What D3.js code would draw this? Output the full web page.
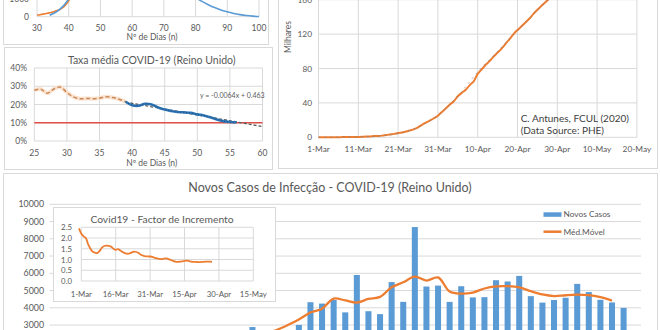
<!DOCTYPE html>
<html><head><meta charset="utf-8">
<script src="https://cdn.jsdelivr.net/npm/d3@7"></script>
<style>body{margin:0;background:#fff} svg{display:block;font-family:Lato,"Open Sans",sans-serif}</style>
</head><body><svg id="c" width="660" height="330"></svg>
<script>
// ---------- DATA ----------
// Panel A (top-left, partially visible): daily cases vs day number
const aTicksX = [30,40,50,60,70,80,90,100];
const aTicksY = [0,1000];
const aObsN = [30,31,32,33,34,35,36,37,38,39,40,41];
const aObsV = [90,110,140,175,215,260,320,380,480,640,880,1150];
const aFitUpN = [34,35,36,37,38,39,40,41];
const aFitUpV = [80,160,260,380,540,740,980,1250];
const aFitDownN = [78,80,82,84,86,88,90,92,94,96,98,100];
const aFitDownV = [1300,1050,840,660,500,370,270,180,115,65,30,10];

// Panel B (middle-left): Taxa média
const bTicksX = [25,30,35,40,45,50,55,60];
const bTicksY = [0,0.1,0.2,0.3,0.4];
const bEarlyN = [25,26,27,28,29,30,31,32,33,34,35,36,37,38,39];
const bEarlyV = [0.278,0.284,0.262,0.285,0.296,0.266,0.242,0.232,0.233,0.232,0.235,0.242,0.238,0.229,0.215];
const bLateN = [39,40,41,42,43,44,45,46,47,48,49,50,51,52,53,54,55,56];
const bLateV = [0.215,0.196,0.193,0.204,0.200,0.184,0.172,0.165,0.159,0.157,0.154,0.146,0.140,0.130,0.118,0.109,0.104,0.102];
const bTrendN = [39,60];
const bTrendV = [0.213,0.079];
const bThreshold = 0.10;
const bEquation = "y = -0.0064x + 0.463";

// Panel C (top-right): cumulative cases (thousands), from 1-Mar
const cStart = "2020-03-01";
const cCum = [0.036,0.04,0.051,0.087,0.116,0.164,0.209,0.278,0.321,0.383,
  0.46,0.594,0.797,1.061,1.391,1.543,1.95,2.626,3.269,3.983,
  5.018,5.683,6.65,8.077,9.529,11.658,14.543,17.089,19.522,22.141,25.15,
  29.474,33.718,38.168,41.903,47.806,51.608,55.242,60.733,65.077,73.758,
  78.991,84.279,88.621,93.873,98.476,103.093,108.692,114.217,120.067,124.743,
  129.044,133.495,138.078,143.464,148.377,152.84,157.149,161.145];
const cFitDay = [0,10,15,20,25,30,35,40,45,50,55,58];
const cFitV = [0,0.4,1.5,4.2,11.5,25.5,48,76,100,124,148,161];
const cTicksY = [0,40,80,120,160];
const cTickLabels = ["1-Mar","11-Mar","21-Mar","31-Mar","10-Apr","20-Apr","30-Apr","10-May","20-May"];

// Panel D (bottom): new daily cases from 10-Mar
const dStart = "2020-03-10";
const dDays = 51;
const dNew = [62,77,134,203,264,330,152,407,676,643,714,1035,665,967,1427,1452,2129,2885,2546,2433,2619,3009,
  4324,4244,4450,3735,5903,3802,3634,5491,4344,8681,5233,5288,4342,5252,4603,4617,5599,5525,5850,4676,
  4301,4451,4583,5386,4913,4463,4309,3996];
// moving average (5-day centred), from 12-Mar
const dMAStart = 2;
const dMA = [148,202,217,271,366,442,518,695,747,805,962,1109,1328,1772,2088,2289,2522,2698,2986,3326,3729,3952,
  4531,4427,4305,4513,4635,5190,5477,5807,5578,5759,4944,4820,4883,5119,5239,5253,5190,4961,4772,4679,4727,4759,4731,4613,4420];
const dTicksY = [3000,4000,5000,6000,7000,8000,9000,10000];

// Inset: Factor de Incremento, from 29-Feb
const iStart = "2020-02-29";
const iFactor = [2.45,2.2,2.08,2.0,1.7,1.5,1.36,1.32,1.3,1.4,1.55,1.63,1.65,1.64,1.6,1.5,1.45,1.48,1.42,1.35,
  1.3,1.27,1.28,1.33,1.37,1.35,1.3,1.22,1.18,1.15,1.15,1.14,1.12,1.08,1.05,1.03,1.02,1.04,1.05,1.02,
  0.98,0.94,0.9,0.89,0.9,0.91,0.94,0.95,0.93,0.9,0.89,0.89,0.88,0.88,0.89,0.9,0.9,0.9,0.89];
const iTicksY = [0,0.5,1.0,1.5,2.0,2.5];
const iTickLabels = ["1-Mar","16-Mar","31-Mar","15-Apr","30-Apr","15-May"];

// ---------- DRAW ----------
const svg = d3.select("#c");
const GRID = "#d9d9d9", TXT = "#595959", ORANGE = "#ed7d31", BLUE = "#5b9bd5";
const parse = d3.timeParse("%Y-%m-%d");
const fmt = d3.timeFormat("%-d-%b");

function panel(x, y, w, h) {
  svg.append("rect").attr("x", x + 0.5).attr("y", y + 0.5).attr("width", w).attr("height", h)
    .attr("fill", "#fff").attr("stroke", GRID);
}
function text(x, y, s, size, anchor, fill) {
  return svg.append("text").attr("x", x).attr("y", y).text(s).attr("font-size", size)
    .attr("text-anchor", anchor || "middle").attr("fill", fill || TXT);
}
function hgrid(g, ys, x0, x1) {
  g.selectAll(null).data(ys).join("line").attr("x1", x0).attr("x2", x1)
    .attr("y1", d => d).attr("y2", d => d).attr("stroke", GRID).attr("stroke-width", 1);
}
function vgrid(g, xs, y0, y1) {
  g.selectAll(null).data(xs).join("line").attr("y1", y0).attr("y2", y1)
    .attr("x1", d => d).attr("x2", d => d).attr("stroke", GRID).attr("stroke-width", 1);
}

// ===== Panel A =====
panel(3, -100, 265, 144);
{
  const x = d3.scaleLinear([30, 100], [37, 259]);
  const y = d3.scaleLinear([0, 1000], [16.7, -1.5]);
  const g = svg.append("g");
  vgrid(g, aTicksX.map(x), y(1000), y(0));
  hgrid(g, aTicksY.map(y), x(30), x(100));
  aTicksX.forEach(t => text(x(t), 31, t, 8.5));
  aTicksY.forEach(t => text(29, y(t) + 3, t, 8.5, "end"));
  text(152, 39.5, "Nº de Dias (n)", 8.5);
  const line = d3.line().curve(d3.curveCatmullRom);
  g.append("path").attr("d", line(aObsN.map((n, i) => [x(n), y(aObsV[i])]))).attr("fill", "none").attr("stroke", ORANGE).attr("stroke-width", 1.6);
  g.append("path").attr("d", line(aFitUpN.map((n, i) => [x(n), y(aFitUpV[i])]))).attr("fill", "none").attr("stroke", BLUE).attr("stroke-width", 1.6);
  g.append("path").attr("d", line(aFitDownN.map((n, i) => [x(n), y(aFitDownV[i])]))).attr("fill", "none").attr("stroke", BLUE).attr("stroke-width", 1.6);
}

// ===== Panel B =====
panel(4, 47, 268, 122);
{
  const x = d3.scaleLinear([25, 60], [34.3, 262.5]);
  const y = d3.scaleLinear([0, 0.4], [141, 68]);
  const g = svg.append("g");
  vgrid(g, bTicksX.map(x), y(0.4), y(0));
  hgrid(g, bTicksY.map(y), x(25), x(60));
  bTicksX.forEach(t => text(x(t), 156, t, 8.5));
  bTicksY.forEach(t => text(27, y(t) + 3, Math.round(t * 100) + "%", 8.5, "end"));
  text(151.7, 63.5, "Taxa média  COVID-19 (Reino Unido)", 10.5);
  text(151.7, 165.5, "Nº de Dias (n)", 8.5);
  const line = d3.line().curve(d3.curveCatmullRom);
  // threshold
  g.append("line").attr("x1", x(25)).attr("x2", x(60)).attr("y1", y(bThreshold)).attr("y2", y(bThreshold))
    .attr("stroke", "#e0504a").attr("stroke-width", 1.3);
  // early (orange)
  const early = bEarlyN.map((n, i) => [x(n), y(bEarlyV[i])]);
  g.append("path").attr("d", line(early)).attr("fill", "none").attr("stroke", "#fbe2cf").attr("stroke-width", 4);
  g.append("path").attr("d", line(early)).attr("fill", "none").attr("stroke", "#c98a5a").attr("stroke-width", 1.5).attr("stroke-dasharray", "4,2.5");
  // trend
  g.append("path").attr("d", d3.line()(bTrendN.map((n, i) => [x(n), y(bTrendV[i])]))).attr("fill", "none")
    .attr("stroke", "#595959").attr("stroke-width", 1.3).attr("stroke-dasharray", "3,2");
  // late (blue)
  const late = bLateN.map((n, i) => [x(n), y(bLateV[i])]);
  g.append("path").attr("d", line(late)).attr("fill", "none").attr("stroke", "#2e75b6").attr("stroke-width", 2.6);
  g.append("path").attr("d", line(late)).attr("fill", "none").attr("stroke", "#1f4e79").attr("stroke-width", 1).attr("stroke-dasharray", "1,2");
  text(200, 98, bEquation, 7, "start");
}

// ===== Panel C =====
panel(278, -100, 379, 268);
{
  const t0 = parse(cStart);
  const x = d3.scaleTime([t0, d3.timeDay.offset(t0, 80)], [318.5, 636.9]);
  const y = d3.scaleLinear([0, 160], [137.3, -0.3]);
  const g = svg.append("g");
  const tickDates = cTickLabels.map((s, i) => d3.timeDay.offset(t0, i * 10));
  vgrid(g, tickDates.map(x), y(160), y(0));
  hgrid(g, cTicksY.map(y), x(tickDates[0]), x(tickDates[tickDates.length - 1]));
  tickDates.forEach((d, i) => text(x(d), 152, cTickLabels[i], 8.3));
  cTicksY.forEach(t => text(312, y(t) + 3, t, 8.3, "end"));
  text(0, 0, "Milhares", 8.5).attr("transform", "translate(291,37) rotate(-90)");
  const line = d3.line().curve(d3.curveCatmullRom);
  g.append("path").attr("d", line(cCum.map((v, i) => [x(d3.timeDay.offset(t0, i)), y(v)])))
    .attr("fill", "none").attr("stroke", ORANGE).attr("stroke-width", 2);
  g.append("path").attr("d", line(cFitDay.map((d, i) => [x(d3.timeDay.offset(t0, d)), y(cFitV[i])])))
    .attr("fill", "none").attr("stroke", "#7f7f7f").attr("stroke-width", 1).attr("stroke-dasharray", "2,4").attr("opacity", 0.6);
  text(520.7, 121.5, "C. Antunes, FCUL (2020)", 10, "start", "#404040");
  text(520.7, 134, "(Data Source: PHE)", 10, "start", "#404040");
}

// ===== Panel D =====
panel(3, 173, 654, 250);
{
  const t0 = parse(dStart);
  const days = d3.range(dDays).map(i => fmt(d3.timeDay.offset(t0, i)));
  const x = d3.scaleBand().domain(days).range([49.5, 641]).paddingInner(0.48).paddingOuter(0.24);
  const y = d3.scaleLinear([0, 10000], [376.8, 204.3]);
  const g = svg.append("g");
  hgrid(g, dTicksY.map(y), 49.5, 641);
  dTicksY.forEach(t => text(44, y(t) + 3, t, 8.8, "end"));
  text(330, 191.5, "Novos Casos de Infecção - COVID-19 (Reino Unido)", 12.5);
  g.selectAll(null).data(dNew).join("rect")
    .attr("x", (d, i) => x(days[i])).attr("width", x.bandwidth())
    .attr("y", d => y(d)).attr("height", d => y(0) - y(d)).attr("fill", BLUE);
  const line = d3.line().curve(d3.curveCatmullRom);
  g.append("path").attr("d", line(dMA.map((v, i) => [x(days[i + dMAStart]) + x.bandwidth() / 2, y(v)])))
    .attr("fill", "none").attr("stroke", ORANGE).attr("stroke-width", 2.3);
  // legend
  svg.append("rect").attr("x", 543.5).attr("y", 212.3).attr("width", 18).attr("height", 4.5).attr("fill", BLUE);
  text(563.5, 217.3, "Novos Casos", 8.3, "start");
  svg.append("line").attr("x1", 543.5).attr("x2", 561.5).attr("y1", 231.7).attr("y2", 231.7).attr("stroke", ORANGE).attr("stroke-width", 2.5);
  text(563.5, 234.7, "Méd.Móvel", 8.3, "start");

  // inset
  panel(53, 207, 222, 94);
  const m0 = parse("2020-03-01");
  const xi = d3.scaleTime([m0, d3.timeDay.offset(m0, 75)], [81.3, 253.3]);
  const yi = d3.scaleLinear([0, 2.5], [281, 227.3]);
  const gi = svg.append("g");
  const iDates = iTickLabels.map((s, i) => d3.timeDay.offset(m0, i * 15));
  vgrid(gi, iDates.map(xi), yi(2.5), yi(0));
  hgrid(gi, iTicksY.map(yi), xi(iDates[0]), xi(iDates[iDates.length - 1]));
  iDates.forEach((d, i) => text(xi(d), 297, iTickLabels[i], 7.8));
  iTicksY.forEach(t => text(72, yi(t) + 3, t.toFixed(1), 7.8, "end"));
  text(162, 222.5, "Covid19 - Factor de Incremento", 10.3);
  const s0 = parse(iStart);
  gi.append("path").attr("d", line(iFactor.map((v, i) => [xi(d3.timeDay.offset(s0, i)), yi(v)])))
    .attr("fill", "none").attr("stroke", ORANGE).attr("stroke-width", 1.8);
}
</script></body></html>
